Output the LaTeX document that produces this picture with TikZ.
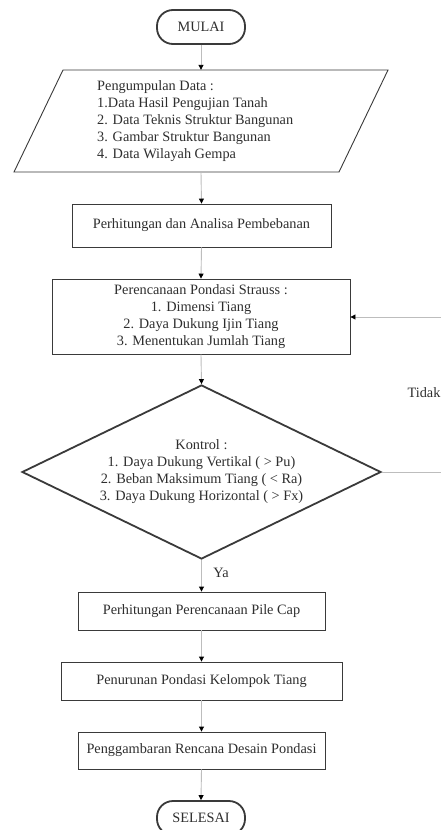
\documentclass[tikz,border=0pt]{standalone}
\usepackage{fontspec}
\setmainfont{Liberation Serif}
\usetikzlibrary{arrows.meta,shapes.geometric}
\definecolor{txt}{HTML}{2E2E2E}
\definecolor{edge}{HTML}{3A3A3A}
\definecolor{conn}{HTML}{BDBDBD}
\tikzset{
  box/.style={draw=edge, line width=0.9pt, rectangle, inner sep=2pt, align=center, text=txt},
  term/.style={draw=edge, line width=1.8pt, rectangle, rounded corners=16pt, minimum width=88pt, minimum height=34pt, inner sep=0pt, text=txt},
  conn/.style={draw=conn, line width=0.9pt, -{Triangle[length=5pt,width=5pt,color=black]}},
  lbl/.style={text=txt, inner sep=0pt}
}
\begin{document}
\begin{tikzpicture}[x=1pt,y=-1pt, font=\fontsize{14.3}{17}\selectfont]
\useasboundingbox (0,0) rectangle (441,830);
\clip (0,0) rectangle (441,830);
\fill[white] (0,0) rectangle (441,830);

% start
\node[term] (start) at (201,27) {MULAI};

% data input (parallelogram)
\draw[draw=edge, line width=0.9pt] (14,172) -- (63,70) -- (388,70) -- (339,172) -- cycle;
\node[minimum width=374pt, minimum height=102pt, inner sep=0pt] (data) at (201,121) {};
\node[lbl, align=left, anchor=west] (datatext) at (97,121) {Pengumpulan Data :\\1.Data Hasil Pengujian Tanah\\2. Data Teknis Struktur Bangunan\\3. Gambar Struktur Bangunan\\4. Data Wilayah Gempa};

% process boxes
\node[box, minimum width=259pt, minimum height=43pt] (b1) at (201.5,225.5) {Perhitungan dan Analisa Pembebanan};
\node[box, minimum width=298pt, minimum height=75pt] (b2) at (201,316.5) {Perencanaan Pondasi Strauss :\\1. Dimensi Tiang\\2. Daya Dukung Ijin Tiang\\3. Menentukan Jumlah Tiang};

% decision
\node[diamond, draw=edge, line width=1.8pt, minimum width=359pt, minimum height=174pt, aspect=2.06, inner sep=0pt, align=center, text=txt] (ctrl) at (201.5,472) {Kontrol :\\1. Daya Dukung Vertikal ( > Pu)\\2. Beban Maksimum Tiang ( < Ra)\\3. Daya Dukung Horizontal ( > Fx)};

\node[box, minimum width=247pt, minimum height=38pt] (b3) at (201.5,611) {Perhitungan Perencanaan Pile Cap};
\node[box, minimum width=281pt, minimum height=38pt] (b4) at (201.5,681) {Penurunan Pondasi Kelompok Tiang};
\node[box, minimum width=247pt, minimum height=37pt] (b5) at (201.5,750.5) {Penggambaran Rencana Desain Pondasi};

\node[term] (stop) at (201,818) {SELESAI};

% labels
\node[lbl] (ya) at (221,573) {Ya};
\node[lbl] (tidak) at (424,393) {Tidak};

% connectors
\draw[conn] (start.south) -- (data.north);
\draw[conn] (data.south) -- (b1.north);
\draw[conn] (b1.south) -- (b2.north);
\draw[conn] (b2.south) -- (ctrl.north);
\draw[conn] (ctrl.south) -- (b3.north);
\draw[conn] (b3.south) -- (b4.north);
\draw[conn] (b4.south) -- (b5.north);
\draw[conn] (b5.south) -- (stop.north);
\coordinate (fbA) at (460,472);
\coordinate (fbB) at (460,317);
\draw[conn] (ctrl.east) -- (fbA) -- (fbB) -- (b2.east |- fbB);
\end{tikzpicture}
\end{document}
